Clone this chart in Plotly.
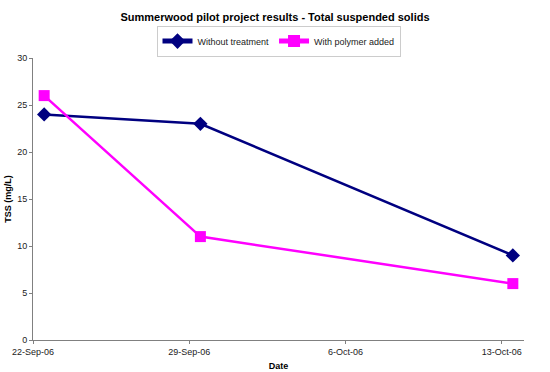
import plotly.graph_objects as go

dates = ["2006-09-22 12:00", "2006-09-29 12:00", "2006-10-13 12:00"]
without_treatment = [24, 23, 9]
with_polymer = [26, 11, 6]
tick_vals = ["2006-09-22", "2006-09-29", "2006-10-06", "2006-10-13"]
tick_text = ["22-Sep-06", "29-Sep-06", "6-Oct-06", "13-Oct-06"]

font = "Liberation Sans, Arial, sans-serif"

fig = go.Figure()
fig.add_trace(go.Scatter(
    x=dates, y=without_treatment, name="Without treatment", mode="lines+markers",
    line=dict(color="#000080", width=2.5),
    marker=dict(symbol="diamond", size=11, color="#000080"),
))
fig.add_trace(go.Scatter(
    x=dates, y=with_polymer, name="With polymer added", mode="lines+markers",
    line=dict(color="#FF00FF", width=2.5),
    marker=dict(symbol="square", size=11, color="#FF00FF"),
))

fig.update_layout(
    width=550, height=372,
    margin=dict(l=33, r=26, t=58, b=32, autoexpand=False),
    paper_bgcolor="white", plot_bgcolor="white",
    font=dict(family=font, size=9, color="#222222"),
    title=dict(text="<b>Summerwood pilot project results - Total suspended solids</b>",
               x=0.5, xanchor="center", y=0.955, yanchor="middle",
               font=dict(size=11, color="#000000")),
    showlegend=True,
    legend=dict(orientation="h", x=0.5, xanchor="center", y=1.06, yanchor="middle",
                bordercolor="#cccccc", borderwidth=1, font=dict(size=9, color="#222222"),
                itemsizing="constant", itemwidth=30, tracegroupgap=0),
    xaxis=dict(
        type="date", range=["2006-09-22", "2006-10-14"],
        tickvals=tick_vals, ticktext=tick_text,
        showline=True, linecolor="#808080", linewidth=1,
        ticks="outside", ticklen=3, tickcolor="#808080",
        showgrid=False, zeroline=False, automargin=False,
        title=dict(text="<b>Date</b>", font=dict(size=9, color="#000000"), standoff=6),
    ),
    yaxis=dict(
        range=[0, 30], dtick=5,
        showline=True, linecolor="#808080", linewidth=1,
        ticks="outside", ticklen=3, tickcolor="#808080",
        showgrid=False, zeroline=False, automargin=False,
        title=dict(text="<b>TSS (mg/L)</b>", font=dict(size=9, color="#000000"), standoff=4),
    ),
)

fig.write_html("out.html", config={"displayModeBar": False},
               post_script="document.body.style.margin='0';document.body.style.overflow='hidden';")
